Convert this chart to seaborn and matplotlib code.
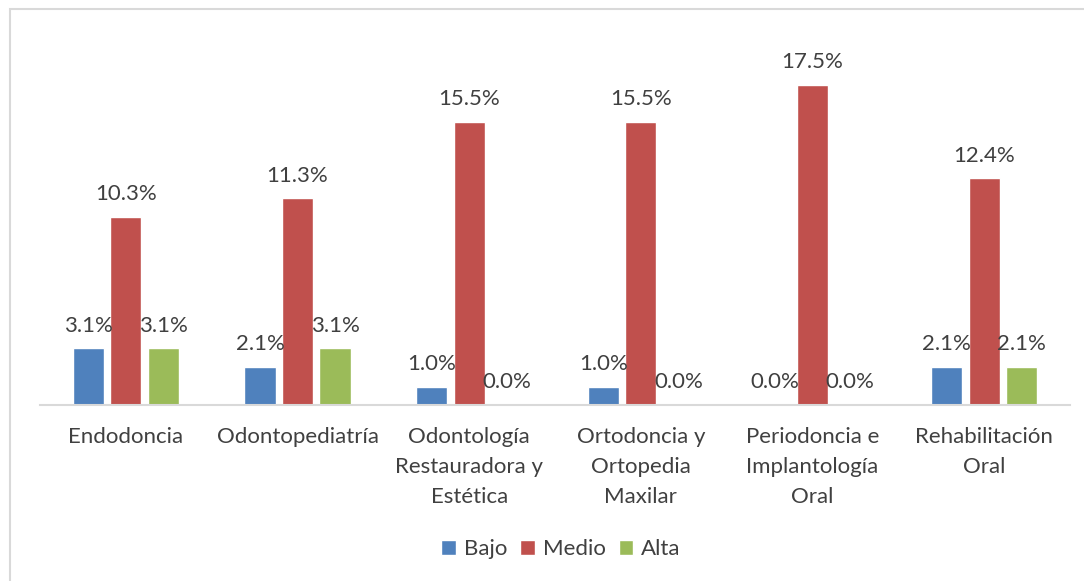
import matplotlib
matplotlib.use("Agg")
import matplotlib.pyplot as plt
import seaborn as sns
import pandas as pd
from matplotlib.patches import Rectangle

categories = ["Endodoncia", "Odontopediatría", "Odontología\nRestauradora y\nEstética",
              "Ortodoncia y\nOrtopedia\nMaxilar", "Periodoncia e\nImplantología\nOral",
              "Rehabilitación\nOral"]
series = ["Bajo", "Medio", "Alta"]
bajo = [3.1, 2.1, 1.0, 1.0, 0.0, 2.1]
medio = [10.3, 11.3, 15.5, 15.5, 17.5, 12.4]
alta = [3.1, 3.1, 0.0, 0.0, 0.0, 2.1]
colors = ["#4F81BD", "#C0504D", "#9BBB59"]

rows = []
for s, vals in zip(series, [bajo, medio, alta]):
    for c, v in zip(categories, vals):
        rows.append({"cat": c, "serie": s, "val": v})
df = pd.DataFrame(rows)

sns.set_theme(style="white")
plt.rcParams["font.family"] = ["Lato", "DejaVu Sans"]
FS = 16

fig = plt.figure(figsize=(10.84, 5.81), dpi=100)
ax = fig.add_axes([40/1084, 176/581, 1030/1084, 355/581])

sns.barplot(data=df, x="cat", y="val", hue="serie", palette=colors,
            width=0.655, gap=0.17, ax=ax, saturation=1, legend=True)

ax.set_ylim(0, 17.5 * 355 / 320)
ax.set_xlim(-0.5, len(categories) - 0.5)
for cont in ax.containers:
    ax.bar_label(cont, labels=[f"{v:.1f}%" for v in cont.datavalues],
                 padding=9, fontsize=FS, color="#404040")

ax.set_xlabel("")
ax.set_ylabel("")
ax.set_yticks([])
ax.tick_params(axis="x", length=0, labelsize=FS, labelcolor="#404040", pad=16)
for lab in ax.get_xticklabels():
    lab.set_linespacing(1.62)
    lab.set_verticalalignment("top")
for s in ["top", "right", "left"]:
    ax.spines[s].set_visible(False)
ax.spines["bottom"].set_color("#D9D9D9")
ax.spines["bottom"].set_linewidth(1.5)

ax.legend(loc="center", bbox_to_anchor=(561/1084, 1 - 549/581),
          bbox_transform=fig.transFigure, ncol=3, frameon=False,
          fontsize=FS, handlelength=0.65, handleheight=0.65,
          handletextpad=0.35, columnspacing=0.6, labelcolor="#404040")

fig.patches.append(Rectangle((10/1084, -0.1), 1.2, 1 - 9/581 + 0.1,
                             transform=fig.transFigure, fill=False,
                             edgecolor="#D9D9D9", linewidth=1.5))

fig.savefig("out.png", dpi=100)
